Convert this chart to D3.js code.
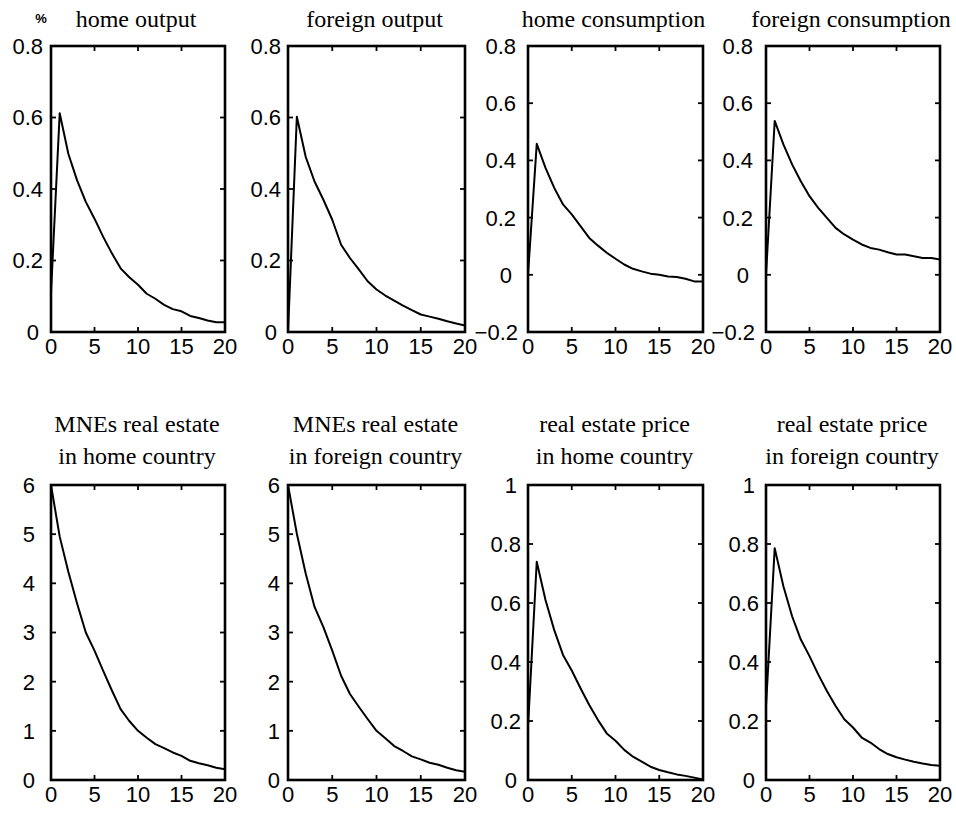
<!DOCTYPE html>
<html>
<head>
<meta charset="utf-8">
<script src="https://cdn.jsdelivr.net/npm/d3@7"></script>
<style>
  html, body { margin: 0; padding: 0; background: #fff; }
  svg { display: block; }
  .title { font-family: "Liberation Serif", "Times New Roman", serif; font-size: 24px; fill: #000; }
  .tick-label { font-family: "Liberation Sans", Arial, sans-serif; font-size: 22px; fill: #000; }
</style>
</head>
<body>
<svg id="chart" width="956" height="813"></svg>
<script>
// Impulse responses, quarters 0..20
const periods = [0, 1, 2, 3, 4, 5, 6, 7, 8, 9, 10, 11, 12, 13, 14, 15, 16, 17, 18, 19, 20];

const homeOutput        = [0.11, 0.612, 0.498, 0.424, 0.364, 0.317, 0.266, 0.220, 0.178, 0.153, 0.132, 0.107, 0.093, 0.076, 0.064, 0.058, 0.045, 0.039, 0.032, 0.027, 0.027];
const foreignOutput     = [0.0, 0.602, 0.490, 0.421, 0.370, 0.314, 0.244, 0.207, 0.175, 0.142, 0.119, 0.102, 0.088, 0.074, 0.061, 0.049, 0.043, 0.037, 0.030, 0.024, 0.018];
const homeConsumption   = [0.0, 0.458, 0.374, 0.304, 0.246, 0.211, 0.170, 0.129, 0.102, 0.077, 0.056, 0.036, 0.021, 0.012, 0.004, 0.000, -0.006, -0.008, -0.014, -0.023, -0.023];
const foreignConsumption= [0.0, 0.538, 0.456, 0.386, 0.327, 0.275, 0.234, 0.199, 0.164, 0.141, 0.123, 0.106, 0.094, 0.088, 0.079, 0.071, 0.071, 0.065, 0.059, 0.059, 0.053];
const mneEstateHome     = [6.0, 4.95, 4.23, 3.59, 3.00, 2.63, 2.22, 1.82, 1.44, 1.20, 1.00, 0.86, 0.73, 0.65, 0.56, 0.49, 0.39, 0.34, 0.30, 0.25, 0.22];
const mneEstateForeign  = [6.0, 5.01, 4.20, 3.52, 3.11, 2.63, 2.12, 1.75, 1.49, 1.24, 1.00, 0.85, 0.69, 0.59, 0.48, 0.42, 0.35, 0.31, 0.25, 0.20, 0.17];
const estatePriceHome   = [0.18, 0.740, 0.610, 0.508, 0.424, 0.371, 0.311, 0.254, 0.203, 0.158, 0.133, 0.102, 0.079, 0.062, 0.045, 0.034, 0.026, 0.019, 0.014, 0.008, 0.002];
const estatePriceForeign= [0.25, 0.786, 0.657, 0.555, 0.476, 0.420, 0.358, 0.302, 0.251, 0.206, 0.178, 0.144, 0.127, 0.105, 0.088, 0.077, 0.069, 0.062, 0.056, 0.051, 0.048];

// Panel titles (one entry per line)
const titles = [
  ["home output"], ["foreign output"], ["home consumption"], ["foreign consumption"],
  ["MNEs real estate", "in home country"], ["MNEs real estate", "in foreign country"],
  ["real estate price", "in home country"], ["real estate price", "in foreign country"]
];

// Tick values and labels
const xTicks = [0, 5, 10, 15, 20];
const xTickLabels = ["0", "5", "10", "15", "20"];
const yTicksOutput = [0, 0.2, 0.4, 0.6, 0.8];
const yLabelsOutput = ["0", "0.2", "0.4", "0.6", "0.8"];
const yTicksCons = [-0.2, 0, 0.2, 0.4, 0.6, 0.8];
const yLabelsCons = ["\u22120.2", "0", "0.2", "0.4", "0.6", "0.8"];
const yTicksEstate = [0, 1, 2, 3, 4, 5, 6];
const yLabelsEstate = ["0", "1", "2", "3", "4", "5", "6"];
const yTicksPrice = [0, 0.2, 0.4, 0.6, 0.8, 1];
const yLabelsPrice = ["0", "0.2", "0.4", "0.6", "0.8", "1"];

const panels = [
  { series: homeOutput,         yTicks: yTicksOutput, yLabels: yLabelsOutput, title: titles[0] },
  { series: foreignOutput,      yTicks: yTicksOutput, yLabels: yLabelsOutput, title: titles[1] },
  { series: homeConsumption,    yTicks: yTicksCons,   yLabels: yLabelsCons,   title: titles[2] },
  { series: foreignConsumption, yTicks: yTicksCons,   yLabels: yLabelsCons,   title: titles[3] },
  { series: mneEstateHome,      yTicks: yTicksEstate, yLabels: yLabelsEstate, title: titles[4] },
  { series: mneEstateForeign,   yTicks: yTicksEstate, yLabels: yLabelsEstate, title: titles[5] },
  { series: estatePriceHome,    yTicks: yTicksPrice,  yLabels: yLabelsPrice,  title: titles[6] },
  { series: estatePriceForeign, yTicks: yTicksPrice,  yLabels: yLabelsPrice,  title: titles[7] }
];

// Layout
const colX = [[51, 225], [288, 465], [528, 703], [766, 940]];
const rowY = [[46, 332], [485, 780]];
const labelGap = [8, 7, 10, 11, 16, 8, 7, 7];
const tickLen = 5;

const svg = d3.select("#chart");

panels.forEach((p, i) => {
  const col = i % 4, row = Math.floor(i / 4);
  const [x0, x1] = colX[col];
  const [y0, y1] = rowY[row];
  const x = d3.scaleLinear().domain([0, 20]).range([x0, x1]);
  const yDom = d3.extent(p.yTicks);
  const y = d3.scaleLinear().domain(yDom).range([y1, y0]);
  const g = svg.append("g");

  // clip to the axes box
  const clipId = "clip" + i;
  svg.append("clipPath").attr("id", clipId)
    .append("rect").attr("x", x0).attr("y", y0).attr("width", x1 - x0).attr("height", y1 - y0);

  // response line
  const line = d3.line().x((d, k) => x(periods[k])).y(d => y(d));
  g.append("path")
    .datum(p.series)
    .attr("clip-path", `url(#${clipId})`)
    .attr("d", line)
    .attr("fill", "none")
    .attr("stroke", "#000")
    .attr("stroke-width", 2)
    .attr("stroke-linejoin", "round");

  // inward ticks on all four sides
  const ticks = g.append("g").attr("stroke", "#000").attr("stroke-width", 1.8);
  xTicks.forEach(t => {
    if (t === 0 || t === 20) return;
    ticks.append("line").attr("x1", x(t)).attr("x2", x(t)).attr("y1", y1).attr("y2", y1 - tickLen);
    ticks.append("line").attr("x1", x(t)).attr("x2", x(t)).attr("y1", y0).attr("y2", y0 + tickLen);
  });
  p.yTicks.forEach(t => {
    if (t === yDom[0] || t === yDom[1]) return;
    ticks.append("line").attr("x1", x0).attr("x2", x0 + tickLen).attr("y1", y(t)).attr("y2", y(t));
    ticks.append("line").attr("x1", x1).attr("x2", x1 - tickLen).attr("y1", y(t)).attr("y2", y(t));
  });

  // frame
  g.append("rect")
    .attr("x", x0).attr("y", y0).attr("width", x1 - x0).attr("height", y1 - y0)
    .attr("fill", "none").attr("stroke", "#000").attr("stroke-width", 2.6);

  // x tick labels
  xTicks.forEach((t, k) => {
    g.append("text").attr("class", "tick-label")
      .attr("x", x(t)).attr("y", y1 + 22)
      .attr("text-anchor", "middle")
      .text(xTickLabels[k]);
  });

  // y tick labels
  const maxLen = d3.max(p.yLabels, s => s.length);
  p.yTicks.forEach((t, k) => {
    const extra = (maxLen - p.yLabels[k].length) * 2;
    g.append("text").attr("class", "tick-label")
      .attr("x", x0 - labelGap[i] - extra).attr("y", y(t))
      .attr("dy", "0.36em")
      .attr("text-anchor", "end")
      .text(p.yLabels[k]);
  });

  // title
  const cx = (x0 + x1) / 2;
  if (p.title.length === 1) {
    g.append("text").attr("class", "title")
      .attr("x", cx - 2).attr("y", 27)
      .attr("text-anchor", "middle").text(p.title[0]);
  } else {
    p.title.forEach((s, k) => {
      g.append("text").attr("class", "title")
        .attr("x", cx - 1).attr("y", 432 + k * 31.5)
        .attr("text-anchor", "middle").text(s);
    });
  }
});

// unit marker above the first panel
svg.append("text")
  .attr("x", 41).attr("y", 23)
  .attr("text-anchor", "middle")
  .attr("font-family", "Liberation Sans, Arial, sans-serif")
  .attr("font-size", 13)
  .attr("font-weight", "bold")
  .text("%");
</script>
</body>
</html>
